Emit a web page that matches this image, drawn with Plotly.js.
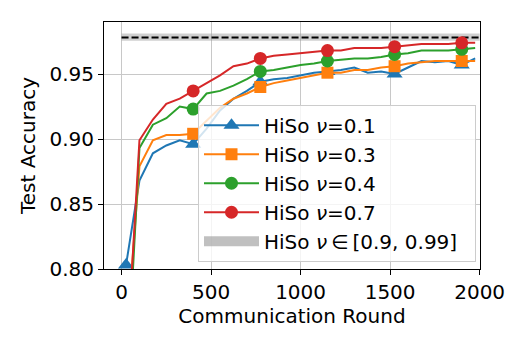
<!DOCTYPE html>
<html>
<head>
<meta charset="utf-8">
<script src="https://cdn.plot.ly/plotly-3.0.1.min.js"></script>
<style>
  html, body { margin: 0; padding: 0; background: #fff; }
  #myDiv { width: 528px; height: 349px; }
</style>
</head>
<body>
<div id="myDiv"></div>
<script>
// communication rounds (one point every 75 rounds)
const rounds = [25, 100, 175, 250, 325, 400, 475, 550, 625, 700, 775, 850, 925, 1000,
  1075, 1150, 1225, 1300, 1375, 1450, 1525, 1600, 1675, 1750, 1825, 1900, 1975];

const accNu01 = [0.803, 0.868, 0.889, 0.895, 0.899, 0.896, 0.908, 0.922, 0.931, 0.937, 0.944, 0.946, 0.947, 0.949,
  0.951, 0.952, 0.953, 0.955, 0.951, 0.952, 0.950, 0.955, 0.960, 0.959, 0.960, 0.957, 0.962];
const accNu03 = [0.740, 0.879, 0.899, 0.903, 0.903, 0.904, 0.914, 0.924, 0.931, 0.935, 0.940, 0.943, 0.945, 0.947,
  0.949, 0.951, 0.951, 0.953, 0.953, 0.955, 0.956, 0.958, 0.959, 0.960, 0.960, 0.960, 0.960];
const accNu04 = [0.700, 0.893, 0.911, 0.916, 0.925, 0.923, 0.935, 0.937, 0.941, 0.946, 0.952, 0.953, 0.955, 0.957,
  0.958, 0.960, 0.961, 0.962, 0.962, 0.963, 0.965, 0.966, 0.968, 0.968, 0.968, 0.969, 0.970];
const accNu07 = [0.720, 0.899, 0.915, 0.927, 0.931, 0.937, 0.943, 0.949, 0.956, 0.958, 0.962, 0.964, 0.965, 0.966,
  0.967, 0.968, 0.968, 0.970, 0.970, 0.970, 0.971, 0.972, 0.973, 0.973, 0.973, 0.974, 0.974];

// high-nu band (nu in [0.9, 0.99]) and its mean
const bandX = [0, 2000];
const bandLow = 0.9756;
const bandHigh = 0.9812;
const bandMean = 0.978;

const seriesNames = ['HiSo <i>ν</i>=0.1', 'HiSo <i>ν</i>=0.3', 'HiSo <i>ν</i>=0.4', 'HiSo <i>ν</i>=0.7'];
const bandName = 'HiSo <i>ν</i>\u2009∈\u2009[0.9, 0.99]\u00a0\u00a0';
const seriesData = [accNu01, accNu03, accNu04, accNu07];
const colors = ['#1f77b4', '#ff7f0e', '#2ca02c', '#d62728'];
const symbols = ['triangle-up', 'square', 'circle', 'circle'];
const markerSizes = [14, 12, 13, 13];
const MARK_EVERY = 5;

function everyNth(arr, n) {
  return arr.filter((_, k) => k % n === 0);
}

const traces = [];

// band first so it sits behind the curves
traces.push({
  x: [bandX[0], bandX[1], bandX[1], bandX[0], bandX[0]],
  y: [bandLow, bandLow, bandHigh, bandHigh, bandLow],
  fill: 'toself',
  fillcolor: 'rgba(150,150,150,0.45)',
  line: { width: 0 },
  mode: 'lines',
  showlegend: false,
  hoverinfo: 'skip'
});
traces.push({
  x: bandX,
  y: [bandMean, bandMean],
  mode: 'lines',
  line: { color: 'black', width: 2, dash: '7px,3px' },
  showlegend: false,
  hoverinfo: 'skip'
});

seriesData.forEach((vals, i) => {
  // full curve
  traces.push({
    x: rounds,
    y: vals,
    mode: 'lines',
    line: { color: colors[i], width: 2 },
    showlegend: false
  });
  // markers every 5th point
  traces.push({
    x: everyNth(rounds, MARK_EVERY),
    y: everyNth(vals, MARK_EVERY),
    mode: 'markers',
    marker: { color: colors[i], symbol: symbols[i], size: markerSizes[i], opacity: 1 },
    showlegend: false
  });
  // legend entry (line + marker)
  traces.push({
    x: [null],
    y: [null],
    mode: 'lines+markers',
    line: { color: colors[i], width: 2 },
    marker: { color: colors[i], symbol: symbols[i], size: markerSizes[i] },
    name: seriesNames[i],
    legendrank: i + 1
  });
});

// legend entry for the band
traces.push({
  x: [null],
  y: [null],
  mode: 'lines',
  line: { color: 'rgba(150,150,150,0.6)', width: 13 },
  name: bandName,
  legendrank: 5
});

const layout = {
  width: 528,
  height: 349,
  margin: { l: 104, r: 48, t: 22, b: 80 },
  paper_bgcolor: '#fff',
  plot_bgcolor: '#fff',
  font: { family: 'DejaVu Sans, sans-serif', size: 20, color: '#000' },
  showlegend: true,
  xaxis: {
    range: [-98, 2002],
    tickvals: [0, 500, 1000, 1500, 2000],
    ticks: 'outside', ticklen: 5, tickcolor: '#000',
    showline: true, linecolor: '#000', linewidth: 1, mirror: true,
    showgrid: true, gridcolor: '#c8c8c8', gridwidth: 1,
    zeroline: false,
    title: { text: 'Communication Round', standoff: 3, font: { size: 20 } }
  },
  yaxis: {
    range: [0.80, 0.99],
    tickvals: [0.80, 0.85, 0.90, 0.95],
    tickformat: '.2f',
    ticks: 'outside', ticklen: 5, tickcolor: '#000',
    showline: true, linecolor: '#000', linewidth: 1, mirror: true,
    showgrid: true, gridcolor: '#c8c8c8', gridwidth: 1,
    zeroline: false,
    title: { text: 'Test Accuracy', standoff: 8, font: { size: 20 } }
  },
  legend: {
    x: 0.25, y: 0.665, xanchor: 'left', yanchor: 'top',
    bgcolor: 'rgba(255,255,255,0.8)',
    bordercolor: '#cccccc', borderwidth: 1,
    font: { size: 20 },
    itemwidth: 55,
    traceorder: 'normal'
  }
};

Plotly.newPlot('myDiv', traces, layout, { displayModeBar: false, staticPlot: true });
</script>
</body>
</html>
